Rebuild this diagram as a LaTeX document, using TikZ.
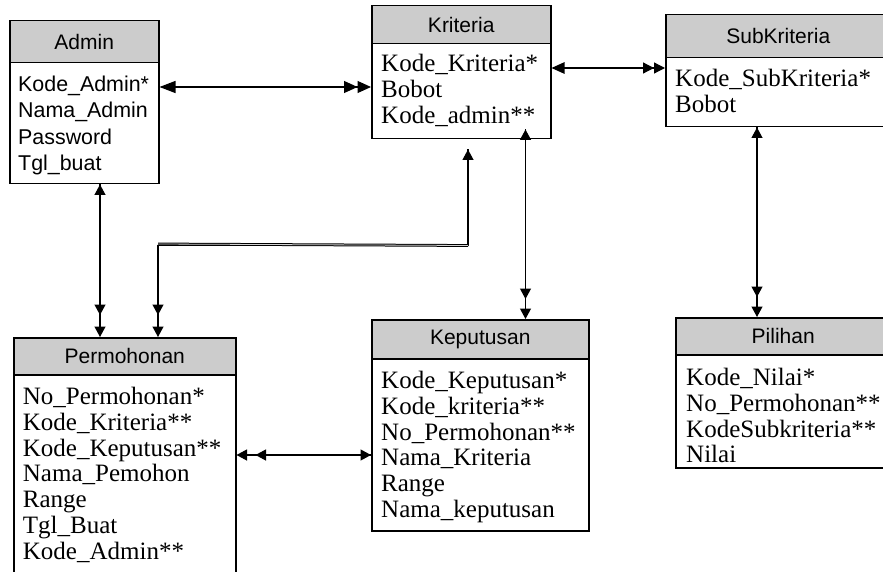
\documentclass[tikz,border=0pt]{standalone}
\usepackage{fontspec}
\setmainfont{Liberation Serif}
\newfontfamily\arialf{Liberation Sans}
\usetikzlibrary{arrows.meta,calc}
\definecolor{hdrgray}{RGB}{204,204,204}
\begin{document}
\begin{tikzpicture}[x=1pt,y=-1pt,
  Tsm/.tip={Triangle[length=10.5pt,width=11pt]},
  Tmd/.tip={Triangle[length=13pt,width=11.5pt]},
  Tbig/.tip={Triangle[length=16pt,width=12pt]},
  hdr/.style={draw, line width=1.5pt, fill=hdrgray, anchor=north west, inner sep=0pt,
    font=\arialf\fontsize{21}{25}\selectfont},
  bodybox/.style={draw, line width=1.5pt, fill=white, anchor=north west, inner sep=0pt},
  fields/.style={anchor=north west, inner sep=0pt, align=left,
    font=\fontsize{25}{25.8}\selectfont},
  sfields/.style={anchor=north west, inner sep=0pt, align=left,
    font=\arialf\fontsize{21.4}{26.2}\selectfont},
  conn/.style={line width=1.2pt},
  dline/.style={draw=black, double=gray!35, line width=1pt, double distance=0.8pt},
  endpair/.style={postaction={draw, -{Tsm[]}, shorten >=#1}},
  startpair/.style={postaction={draw, {Tsm[]}-, shorten <=#1}}
]
\useasboundingbox (0,0) rectangle (883,572);

% Admin
\node[bodybox, minimum width=149pt, minimum height=121pt] (admB) at (9,62) {};
\node[hdr, minimum width=149pt, minimum height=42pt] (admH) at (9,20) {Admin};
\node[sfields] (admF) at (18,76) {Kode\_Admin*\\Nama\_Admin\\Password\\Tgl\_buat};

% Kriteria
\node[bodybox, minimum width=179pt, minimum height=95pt] (kriB) at (371,43) {};
\node[hdr, minimum width=179pt, minimum height=38pt] (kriH) at (371,5) {Kriteria};
\node[fields] (kriF) at (381,54) {Kode\_Kriteria*\\Bobot\\Kode\_admin**};

% SubKriteria
\node[bodybox, minimum width=225pt, minimum height=69pt] (subB) at (665,57) {};
\node[hdr, minimum width=225pt, minimum height=43pt] (subH) at (665,14) {SubKriteria};
\node[fields] (subF) at (675,69) {Kode\_SubKriteria*\\Bobot};

% Permohonan
\node[bodybox, minimum width=222pt, minimum height=220pt] (perB) at (13,374) {};
\node[hdr, minimum width=222pt, minimum height=37pt] (perH) at (13,337) {Permohonan};
\node[fields] (perF) at (22.7,387) {No\_Permohonan*\\Kode\_Kriteria**\\Kode\_Keputusan**\\Nama\_Pemohon\\Range\\Tgl\_Buat\\Kode\_Admin**};

% Keputusan
\node[bodybox, minimum width=217pt, minimum height=172pt] (kepB) at (371,358) {};
\node[hdr, minimum width=217pt, minimum height=39pt] (kepH) at (371,319) {Keputusan};
\node[fields] (kepF) at (381,371) {Kode\_Keputusan*\\Kode\_kriteria**\\No\_Permohonan**\\Nama\_Kriteria\\Range\\Nama\_keputusan};

% Pilihan
\node[bodybox, minimum width=215pt, minimum height=113pt] (pilB) at (675,354) {};
\node[hdr, minimum width=215pt, minimum height=37pt] (pilH) at (675,317) {Pilihan};
\node[fields] (pilF) at (686,368) {Kode\_Nilai*\\No\_Permohonan**\\KodeSubkriteria**\\Nilai};

% Relations
\draw[conn, {Tbig[]}-{Triangle[length=13.5pt,width=12pt]Triangle[length=13.5pt,width=12pt]}]
  ($(admB.north east)+(0,25)$) -- ($(kriB.north west)+(0,44)$);
\draw[conn, {Tmd[]}-{Triangle[length=11pt,width=11pt]Triangle[length=11pt,width=11pt]}]
  ($(kriB.north east)+(0,25)$) -- ($(subB.north west)+(0,11)$);
\draw[conn, {Tsm[]}-{Tsm[]}, endpair=22pt]
  ($(admB.south west)+(91,0)$) -- ($(perH.north west)+(87,0)$);
\coordinate (kp1) at ($(kriB.south west)+(97,10)$);
\coordinate (kp2) at ($(perH.north west)+(145,0)$);
\draw[conn, {Tsm[]}-{Tsm[]}, endpair=22pt] (kp1) -- ++(0,96) -| (kp2);
\draw[dline] ($(kp1)+(0,96)$) -- ($(kp2)+(0,-93)$);
\draw[conn, {Tsm[]}-{Tsm[]}, endpair=20pt]
  ($(kriB.south west)+(154.5,-10)$) -- ($(kepH.north west)+(154.5,0)$);
\draw[conn, {Tsm[]}-{Tsm[]}, endpair=20pt]
  ($(subB.south west)+(92,0)$) -- ($(pilH.north west)+(82,0)$);
\draw[conn, {Tsm[]}-{Tsm[]}, startpair=19pt]
  ($(perB.north east)+(0,81)$) -- ($(kepB.north west)+(0,97)$);
\end{tikzpicture}
\end{document}
